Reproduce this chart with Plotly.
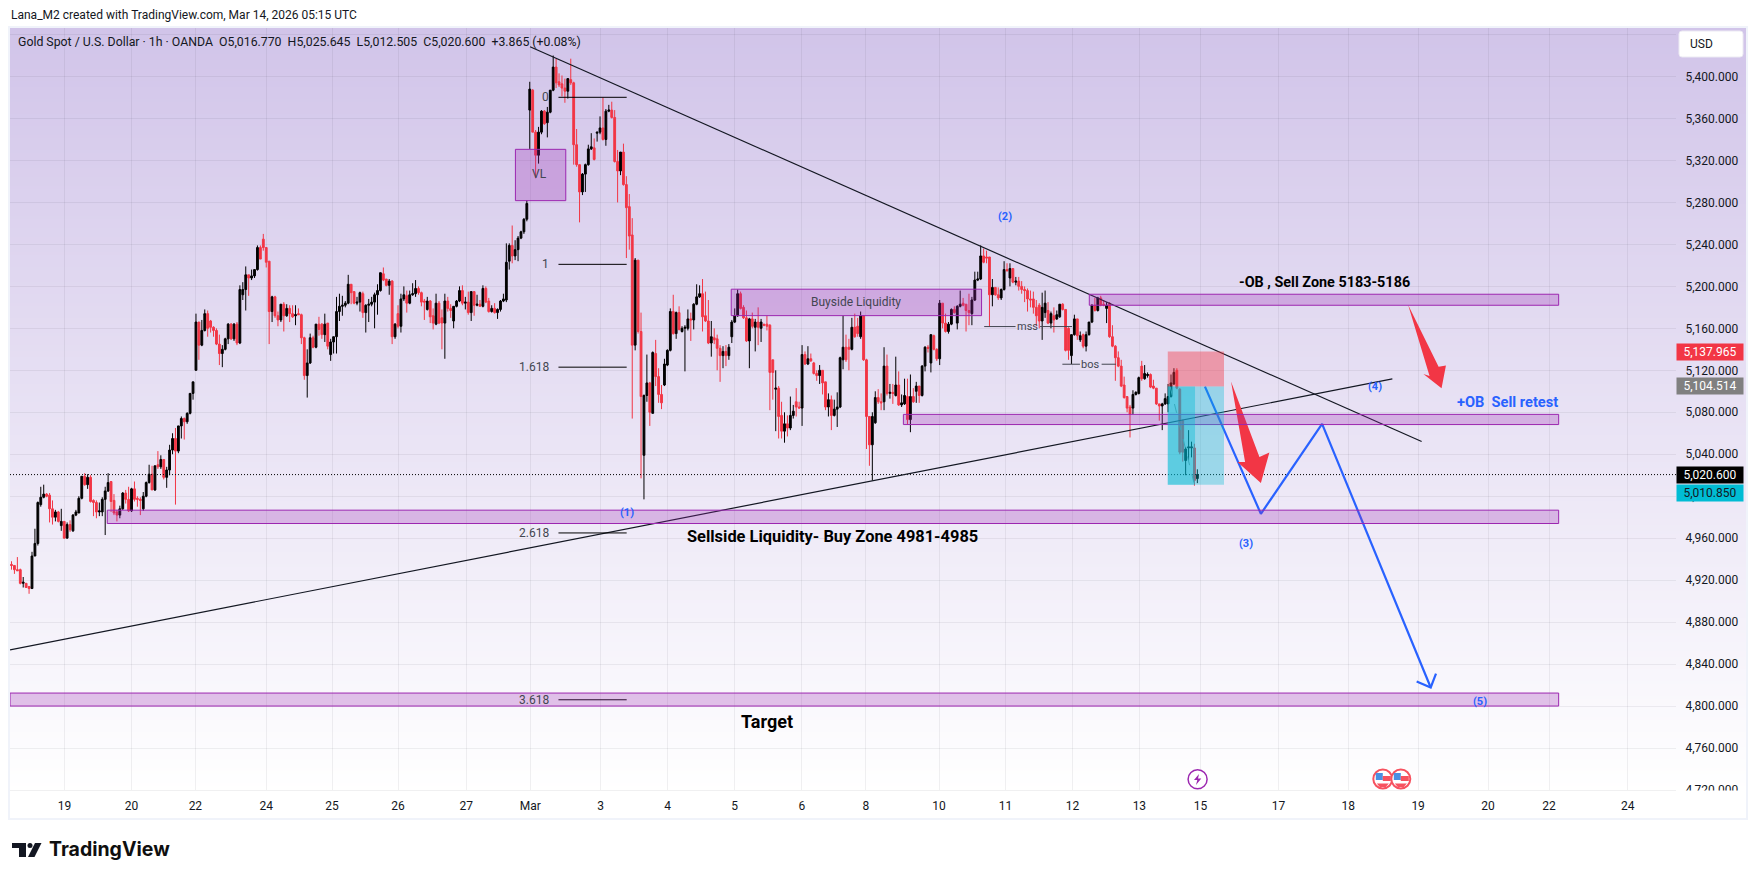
import plotly.graph_objects as go

# ---------- candle data (USD, hourly bars) ----------
opens = [
4935,4934,4930,4930,4917,4917,4914,4912,4943,4955, 4992,4999,5002,5001,4988,4980,4985,4972,4976,4960,
4973,4967,4982,4984,4998,5019,5011,5018,4996,4994, 4985,4985,4997,5005,5014,4996,4985,4982,4988,5003,
4997,4986,5007,4998,4997,4988,5000,5013,5021,5006, 5030,5028,5035,5018,5025,5044,5055,5043,5067,5074,
5071,5079,5098,5120,5166,5144,5158,5174,5167,5161, 5158,5145,5136,5140,5150,5164,5150,5164,5146,5192,
5197,5211,5208,5210,5216,5237,5245,5237,5224,5176, 5190,5172,5168,5183,5172,5179,5174,5172,5174,5173,
5151,5115,5127,5151,5142,5164,5164,5154,5165,5135, 5147,5152,5176,5181,5182,5184,5202,5195,5184,5185,
5193,5175,5182,5183,5185,5192,5196,5212,5207,5201, 5205,5152,5174,5162,5188,5191,5184,5192,5193,5198,
5194,5186,5178,5186,5172,5164,5184,5170,5165,5186, 5179,5167,5181,5186,5196,5184,5185,5175,5195,5182,
5183,5181,5198,5186,5176,5179,5175,5178,5186,5187, 5224,5239,5229,5235,5246,5252,5264,5368,5387,5347,
5325,5347,5367,5356,5366,5387,5409,5395,5393,5389, 5386,5397,5394,5335,5316,5290,5307,5316,5331,5332,
5346,5347,5351,5340,5367,5368,5361,5319,5310,5328, 5297,5276,5249,5144,5225,5157,5039,5096,5108,5079,
5136,5114,5097,5106,5125,5139,5176,5155,5175,5157, 5160,5160,5169,5168,5183,5190,5193,5172,5167,5146,
5151,5150,5141,5134,5138,5134,5152,5166,5172,5193, 5180,5170,5148,5169,5161,5166,5160,5164,5164,5163,
5130,5102,5103,5077,5062,5069,5065,5077,5090,5085, 5084,5135,5126,5131,5127,5117,5115,5120,5109,5085,
5092,5077,5083,5085,5130,5142,5142,5140,5161,5162, 5152,5172,5130,5076,5049,5070,5094,5090,5090,5124,
5098,5099,5096,5106,5087,5088,5095,5073,5095,5100, 5105,5096,5124,5142,5127,5153,5140,5131,5184,5165,
5157,5164,5178,5165,5181,5184,5183,5177,5174,5187, 5206,5207,5229,5228,5228,5192,5199,5192,5189,5197,
5216,5208,5217,5204,5205,5200,5197,5196,5188,5188, 5180,5182,5167,5175,5177,5165,5172,5169,5171,5183,
5178,5160,5134,5154,5169,5149,5154,5143,5154,5166, 5182,5177,5189,5183,5179,5184,5152,5143,5132,5124,
5106,5095,5085,5084,5097,5098,5124,5112,5115,5116, 5105,5103,5088,5086,5088,5088,5095,5107,5120,5102,
5072,5034,5046,5046,5046,5016.77]
highs = [
4938,4934,4942,4931,4923,4917,4914,4947,4969,4995, 5009,5011,5003,5003,4996,4987,4986,4988,4976,4975,
4977,4983,4987,5000,5019,5022,5021,5020,4997,4996, 4994,4999,5009,5022,5014,5002,4987,4991,5004,5006,
5009,5008,5014,5000,4999,5004,5014,5030,5029,5029, 5043,5039,5035,5028,5049,5060,5065,5067,5076,5075,
5080,5098,5109,5174,5166,5168,5178,5177,5168,5162, 5160,5154,5144,5151,5165,5165,5165,5166,5201,5204,
5219,5211,5216,5216,5239,5239,5250,5237,5224,5191, 5191,5176,5183,5185,5183,5182,5182,5182,5179,5174,
5152,5140,5155,5153,5164,5171,5165,5174,5165,5150, 5152,5190,5193,5191,5186,5211,5202,5195,5190,5195,
5195,5183,5188,5190,5194,5202,5213,5218,5207,5207, 5206,5165,5182,5193,5200,5196,5196,5203,5206,5200,
5195,5188,5190,5187,5179,5193,5186,5178,5193,5190, 5183,5181,5187,5200,5201,5190,5195,5195,5195,5192,
5187,5201,5200,5189,5182,5184,5179,5187,5193,5241, 5241,5258,5244,5248,5253,5265,5282,5395,5388,5349,
5352,5368,5368,5371,5387,5420,5417,5403,5401,5398, 5398,5417,5395,5350,5316,5308,5317,5335,5346,5341,
5347,5362,5380,5369,5373,5376,5368,5330,5328,5336, 5305,5288,5265,5227,5225,5175,5097,5135,5109,5138,
5149,5122,5106,5131,5140,5179,5192,5176,5181,5162, 5163,5178,5175,5184,5202,5201,5207,5195,5187,5167,
5160,5154,5144,5143,5144,5145,5168,5179,5197,5195, 5182,5177,5170,5175,5169,5180,5169,5164,5172,5164,
5130,5120,5105,5090,5080,5077,5095,5087,5103,5090, 5144,5138,5143,5136,5128,5120,5125,5120,5109,5098,
5096,5092,5099,5133,5172,5154,5150,5170,5174,5170, 5176,5172,5131,5076,5080,5100,5102,5098,5142,5135,
5107,5107,5133,5119,5097,5112,5112,5116,5103,5109, 5105,5125,5143,5144,5154,5154,5141,5187,5184,5174,
5166,5179,5181,5182,5196,5189,5183,5193,5190,5214, 5214,5239,5236,5234,5228,5207,5199,5199,5198,5224,
5222,5222,5217,5209,5209,5205,5200,5198,5196,5195, 5187,5184,5194,5196,5185,5176,5180,5177,5183,5184,
5178,5161,5154,5173,5169,5157,5155,5157,5166,5183, 5189,5190,5191,5187,5185,5185,5163,5144,5138,5130,
5114,5095,5087,5101,5100,5114,5129,5125,5118,5117, 5111,5103,5088,5089,5098,5107,5116,5122,5122,5103,
5073,5047,5063,5052,5050,5025.645]
lows = [
4930,4926,4929,4916,4913,4913,4907,4912,4943,4953, 4990,4998,4999,4975,4973,4976,4975,4967,4960,4960,
4966,4966,4981,4984,4997,5010,5007,4994,4981,4979, 4981,4981,4963,5004,4985,4982,4976,4979,4987,4993,
4985,4985,4995,4990,4982,4986,4999,5012,5006,5005, 5026,5026,5016,5008,5020,5040,4992,5041,5055,5054,
5069,5078,5092,5120,5130,5143,5157,5152,5156,5152, 5144,5125,5123,5139,5145,5149,5148,5144,5145,5187,
5177,5191,5206,5208,5215,5226,5234,5218,5145,5166, 5170,5162,5166,5157,5171,5166,5170,5163,5173,5145,
5111,5094,5126,5141,5141,5153,5150,5147,5140,5129, 5136,5136,5167,5172,5180,5183,5183,5183,5182,5176,
5170,5156,5166,5181,5160,5173,5195,5205,5200,5192, 5145,5150,5160,5156,5186,5175,5183,5191,5190,5192,
5181,5168,5177,5165,5159,5163,5164,5140,5131,5176, 5170,5160,5180,5185,5182,5178,5173,5167,5172,5181,
5181,5180,5184,5175,5175,5174,5169,5176,5185,5185, 5216,5222,5225,5224,5245,5250,5262,5331,5347,5303,
5317,5345,5354,5342,5365,5386,5389,5390,5381,5375, 5379,5392,5316,5314,5261,5287,5290,5315,5330,5320,
5338,5345,5339,5334,5366,5360,5318,5280,5306,5296, 5227,5235,5074,5139,5155,5017,4997,5090,5067,5079,
5105,5089,5083,5105,5124,5138,5154,5150,5158,5156, 5119,5158,5148,5159,5182,5189,5157,5166,5145,5133,
5145,5120,5109,5122,5124,5130,5146,5165,5171,5178, 5169,5147,5122,5160,5138,5144,5147,5162,5158,5082,
5092,5062,5055,5055,5051,5057,5063,5074,5076,5084, 5067,5125,5125,5128,5116,5110,5107,5097,5082,5076,
5063,5076,5066,5084,5121,5128,5120,5139,5151,5152, 5150,5129,5045,5029,5015,5069,5088,5082,5082,5096,
5093,5088,5095,5086,5085,5087,5068,5061,5089,5089, 5089,5095,5119,5137,5118,5139,5129,5125,5160,5156,
5155,5163,5174,5159,5180,5181,5157,5163,5163,5186, 5205,5206,5222,5222,5162,5181,5191,5187,5187,5196,
5214,5200,5203,5201,5196,5193,5185,5176,5180,5174, 5162,5160,5149,5170,5164,5160,5156,5168,5170,5177,
5138,5130,5126,5153,5149,5147,5141,5138,5153,5165, 5176,5176,5181,5181,5165,5151,5142,5110,5123,5104,
5093,5080,5056,5078,5096,5097,5110,5111,5113,5103, 5102,5087,5072,5063,5087,5080,5094,5106,5102,5040,
5033,5020,5034,5037,5010,5012.505]
closes = [
4934,4930,4929,4917,4918,4913,4912,4943,4955,4994, 4999,5002,5000,4988,4980,4985,4976,4976,4960,4973,
4968,4982,4985,4998,5019,5011,5018,4995,4994,4985, 4986,4997,5005,5013,4995,4984,4982,4988,5003,4997,
4986,5007,4997,4997,4996,5000,5013,5021,5006,5029, 5028,5035,5018,5025,5044,5055,5043,5067,5074,5071,
5079,5098,5109,5166,5144,5158,5174,5160,5161,5158, 5145,5136,5140,5150,5164,5150,5164,5146,5197,5197,
5211,5208,5210,5216,5237,5226,5237,5223,5176,5190, 5172,5168,5183,5172,5179,5174,5171,5173,5173,5151,
5115,5127,5151,5142,5164,5159,5154,5164,5143,5147, 5152,5176,5181,5182,5184,5202,5194,5184,5185,5194,
5175,5182,5183,5185,5192,5196,5213,5206,5201,5205, 5152,5164,5162,5188,5192,5184,5192,5193,5198,5194,
5185,5185,5186,5171,5165,5184,5165,5165,5186,5179, 5177,5181,5186,5196,5184,5185,5175,5195,5182,5183,
5181,5198,5185,5176,5179,5175,5178,5186,5188,5223, 5239,5229,5235,5246,5252,5264,5279,5388,5347,5325,
5347,5367,5355,5366,5387,5409,5394,5392,5389,5386, 5398,5394,5335,5316,5290,5307,5316,5331,5333,5321,
5347,5351,5340,5367,5368,5361,5319,5310,5328,5297, 5275,5248,5144,5225,5157,5095,5096,5108,5080,5137,
5114,5097,5089,5126,5139,5176,5155,5175,5159,5160, 5161,5169,5168,5183,5190,5193,5171,5167,5146,5152,
5149,5141,5134,5138,5134,5142,5166,5172,5193,5179, 5170,5148,5169,5162,5166,5161,5166,5163,5162,5118,
5118,5103,5076,5062,5069,5065,5077,5081,5085,5084, 5135,5126,5131,5129,5117,5115,5120,5108,5085,5092,
5077,5083,5085,5132,5142,5130,5140,5161,5152,5155, 5172,5130,5076,5049,5076,5094,5090,5089,5124,5098,
5099,5098,5106,5087,5089,5096,5073,5095,5090,5105, 5096,5124,5142,5141,5154,5140,5131,5184,5165,5157,
5164,5178,5175,5181,5183,5182,5177,5175,5187,5206, 5207,5229,5223,5227,5192,5199,5192,5189,5197,5216,
5215,5217,5204,5205,5200,5197,5196,5188,5187,5180, 5172,5167,5180,5184,5165,5174,5168,5173,5183,5178,
5139,5139,5154,5169,5153,5153,5143,5154,5166,5182, 5177,5189,5182,5182,5182,5152,5143,5132,5124,5105,
5094,5084,5078,5097,5099,5113,5112,5117,5116,5104, 5103,5088,5086,5088,5093,5095,5108,5118,5103,5042,
5042,5045,5047,5047,5015,5020.6]
assert len(opens) == len(highs) == len(lows) == len(closes) == 406
bars = list(range(len(opens)))

# ---------- axes ----------
date_ticks = [18.1,41,62.8,87,109.5,132,155.3,177.2,201.2,224.1,247,269.9,291.8,316.8,339.5,362.4,385.2,406.1,432.7,456.5,480.4,504.3,525.1,552]
date_labels = ["19","20","22","24","25","26","27","Mar","3","4","5","6","8","10","11","12","13","15","17","18","19","20","22","24"]
price_ticks = [4720,4760,4800,4840,4880,4920,4960,5000,5040,5080,5120,5160,5200,5240,5280,5320,5360,5400,5440]
price_labels = [f"{v:,.3f}" for v in price_ticks[:-1]] + [""]
x_range = [-0.512, 568.47]
y_range = [4720, 5447.2]

# ---------- drawings, in (bar, price) ----------
falling_line = ([177.1, 481.6], [5428.4, 5052.1])
rising_line = ([-0.5, 471.6], [4853.6, 5111.8])
fib_levels = {"0": 5380.2, "1": 5221, "1.618": 5123, "2.618": 4965, "3.618": 4806}
fib_span = [186.8, 210.1]
fib_label_bar = 184.3
zones = [  # x0, x1, low, high
    (172.1, 189.3, 5281.7, 5330.6),
    (245.8, 331.3, 5172.1, 5197.3),
    (368.1, 528.4, 5182.0, 5192.5),
    (304.6, 528.4, 5068.3, 5078.0),
    (32.7, 528.4, 4974.0, 4986.7),
    (-0.5, 528.4, 4800.0, 4812.4),
]
short_entry, short_stop, short_target, last_price = 5104.514, 5137.965, 5010.85, 5020.6
short_bars = (394.9, 404.2, 414.1)
path_bars = [407.6, 426.7, 447.6, 484.7]
path_prices = [5104.5, 4983.2, 5068.9, 4817.7]
head_bars = [479.9, 484.7, 486.5]
head_prices = [4823.5, 4817.7, 4830.9]
arrow1_bars = [416.5, 421.3, 418.7, 426.7, 429.6, 426.2, 416.5]
arrow1_prices = [5109.3, 5032.5, 5032.5, 5012.5, 5041.7, 5037.3, 5109.3]
arrow2_bars = [477, 484.3, 482.2, 488.4, 489.9, 487.4, 477]
arrow2_prices = [5182.3, 5114.6, 5116.6, 5103, 5124.5, 5123.3, 5182.3]
mss_price, bos_price = 5161.7, 5125.8
mss_segments = [(332.2, 342.9), (351.3, 362.2)]
bos_segments = [(358.9, 364.9), (372.3, 377.2)]
trade_dash = ([395.7, 404], [5104.5, 5011])

W, H = 1757, 880
L, R, T, B = 10, 1676, 27, 790
FONT = "Roboto"
INK = "#131722"
BLUE = "#2962ff"
RED = "#f23645"
PURPLE = "#9c27b0"
GREY = "#434651"


def fx(px):
    return (px - L) / (R - L)


def fy(py):
    return 1 - (py - T) / (B - T)


def ppath(points):
    return "M " + " L ".join(f"{fx(a):.5f},{fy(b):.5f}" for a, b in points) + " Z"


fig = go.Figure()

# background gradient, below the grid
shapes = []
top_c, bot_c = (209, 196, 233), (255, 255, 255)
step = 3
for y in range(T, B, step):
    t = (y - T) / (B - T)
    c = tuple(round(a + (b - a) * t) for a, b in zip(top_c, bot_c))
    shapes.append(dict(type="rect", xref="paper", yref="paper", layer="below", x0=fx(9), x1=fx(1746),
                       y0=fy(min(y + step, B)), y1=fy(y), fillcolor=f"rgb{c}", line_width=0))

# frame around the chart
shapes.append(dict(type="rect", xref="paper", yref="paper", layer="above", x0=fx(9), x1=fx(1747), y0=fy(819), y1=fy(27),
                   line=dict(color="#f0f3fa", width=2), fillcolor="rgba(0,0,0,0)"))

fig.add_trace(go.Candlestick(
    x=bars, open=opens, high=highs, low=lows, close=closes, name="XAUUSD",
    increasing=dict(line=dict(color="#000000", width=1), fillcolor="#000000"),
    decreasing=dict(line=dict(color=RED, width=1), fillcolor=RED),
    whiskerwidth=0, hoverinfo="skip", showlegend=False))


def line(xs, ys, color=INK, width=1, dash=None, name=None):
    fig.add_trace(go.Scatter(x=xs, y=ys, mode="lines", line=dict(color=color, width=width, dash=dash),
                             hoverinfo="skip", showlegend=False, name=name))


line([x_range[0], x_range[1]], [last_price, last_price], "#000000", 1, "1px,2px", "last")
line(*falling_line, INK, 1.2, None, "falling")
line(*rising_line, INK, 1.2, None, "rising")
for v in fib_levels.values():
    line(fib_span, [v, v], "#000000", 1)
for a, b in mss_segments:
    line([a, b], [mss_price, mss_price], GREY, 1)
for a, b in bos_segments:
    line([a, b], [bos_price, bos_price], GREY, 1)

# zones
for x0, x1, lo, hi in zones:
    shapes.append(dict(type="rect", xref="x", yref="y", layer="above", x0=x0, x1=x1, y0=lo, y1=hi,
                       fillcolor="rgba(156,39,176,0.27)", line=dict(color=PURPLE, width=1)))
# short position
shapes.append(dict(type="rect", xref="x", yref="y", layer="above", x0=short_bars[0], x1=short_bars[2], y0=short_entry, y1=short_stop,
                   fillcolor="rgba(242,54,69,0.42)", line_width=0))
shapes.append(dict(type="rect", xref="x", yref="y", layer="above", x0=short_bars[0], x1=short_bars[2], y0=short_target, y1=short_entry,
                   fillcolor="rgba(0,188,212,0.34)", line_width=0))
shapes.append(dict(type="rect", xref="x", yref="y", layer="above", x0=short_bars[0], x1=short_bars[1], y0=short_target, y1=short_entry,
                   fillcolor="rgba(0,188,212,0.40)", line_width=0))

line(*trade_dash, "#8a8f9c", 1, "dash", "trade")
line(path_bars, path_prices, BLUE, 2.2, None, "path")
line(head_bars, head_prices, BLUE, 2.2, None, "head")
for xs, ys in [(arrow1_bars, arrow1_prices), (arrow2_bars, arrow2_prices)]:
    fig.add_trace(go.Scatter(x=xs, y=ys, mode="lines", fill="toself", fillcolor=RED, line=dict(color=RED, width=0),
                             hoverinfo="skip", showlegend=False))

# chart chrome: lower right strip cut, USD button, events, logo
shapes.append(dict(type="rect", xref="paper", yref="paper", layer="above", x0=fx(1677), x1=fx(1746), y0=fy(818), y1=fy(790.5),
                   fillcolor="white", line_width=0))
bx0, bx1, by0, by1 = fx(1679), fx(1743), fy(57), fy(31)
rx, ry = 3 / (R - L), 3 / (B - T)
shapes.append(dict(type="path", xref="paper", yref="paper", layer="above",
                   path=(f"M {bx0+rx},{by1} L {bx1-rx},{by1} Q {bx1},{by1} {bx1},{by1-ry} L {bx1},{by0+ry} Q {bx1},{by0} {bx1-rx},{by0} "
                         f"L {bx0+rx},{by0} Q {bx0},{by0} {bx0},{by0+ry} L {bx0},{by1-ry} Q {bx0},{by1} {bx0+rx},{by1} Z"),
                   fillcolor="white", line=dict(color="#eceaf3", width=1)))


def circle(cx, cy, r, line_color, w=2):
    shapes.append(dict(type="circle", xref="paper", yref="paper", layer="above", x0=fx(cx - r), x1=fx(cx + r), y0=fy(cy + r), y1=fy(cy - r),
                       fillcolor="white", line=dict(color=line_color, width=w)))


def poly(points, color):
    shapes.append(dict(type="path", xref="paper", yref="paper", layer="above", path=ppath(points), fillcolor=color, line_width=0))


circle(1197.6, 779.3, 9.5, PURPLE, 1.5)
poly([(1199, 774), (1194, 780), (1197.3, 780), (1196, 785), (1201.3, 778.5), (1198, 778.5)], PURPLE)
for cx in (1382.8, 1400.8):
    circle(cx, 779, 9.5, "#f7525f", 2)
    poly([(cx - 7, 773), (cx, 773), (cx, 780), (cx - 7, 780)], "#4a90e2")
    poly([(cx, 776), (cx + 8, 776), (cx + 8, 781), (cx, 781)], "#f7525f")
    poly([(cx - 6, 783.5), (cx + 6, 783.5), (cx + 3, 787), (cx - 3, 787)], "#f7525f")

poly([(12, 843), (26, 843), (26, 857), (19, 857), (19, 848), (12, 848)], INK)
poly([(35, 843), (41.5, 843), (34.5, 857), (28, 857)], INK)
shapes.append(dict(type="circle", xref="paper", yref="paper", layer="above", x0=fx(27.5), x1=fx(32.5), y0=fy(848), y1=fy(843),
                   fillcolor=INK, line_width=0))

fig.update_layout(shapes=shapes)


def note(text, x, y, size=12, color=INK, bold=False, anchor="center"):
    fig.add_annotation(text=text, x=x, y=y, xref="x", yref="y", showarrow=False, xanchor=anchor, yanchor="middle",
                       font=dict(family=FONT, size=size, color=color, weight=700 if bold else 400))


def page_text(text, px, py, size=12, color=INK, bold=False, anchor="left", family=FONT):
    fig.add_annotation(text=text, x=fx(px), y=fy(py), xref="paper", yref="paper", showarrow=False, xanchor=anchor, yanchor="middle",
                       font=dict(family=family, size=size, color=color, weight=700 if bold else 400))


def tag(text, py, bg, color="white"):
    fig.add_annotation(text=text, x=1.0, y=fy(py), xref="paper", yref="paper", showarrow=False, xanchor="left", yanchor="middle",
                       width=66, height=16, bgcolor=bg, borderpad=0, align="center",
                       font=dict(family=FONT, size=12, color=color))


for k, v in fib_levels.items():
    note(k, fib_label_bar, v, 12, GREY, anchor="right")
note("VL", 180.4, 5307, 12, GREY)
note("Buyside Liquidity", 288.4, 5184.9, 12, GREY)
note("mss", 347, mss_price, 11, GREY)
note("bos", 368.3, bos_price, 11, GREY)
note("(1)", 210.1, 4984.8, 11, BLUE, True)
note("(2)", 339.3, 5267, 11, BLUE, True)
note("(3)", 421.6, 4955, 11, BLUE, True)
note("(4)", 465.6, 5105, 11, BLUE, True)
note("(5)", 501.4, 4804.8, 11, BLUE, True)
note("-OB , Sell Zone 5183-5186", 448.3, 5203.9, 14.4, "#000000", True)
note("+OB  Sell retest", 510.9, 5089.6, 14.6, BLUE, True)
note("Sellside Liquidity- Buy Zone 4981-4985", 280.5, 4961.6, 16.4, "#000000", True)
note("Target", 257.9, 4785.4, 18, "#000000", True)

page_text("Lana_M2 created with TradingView.com, Mar 14, 2026 05:15 UTC", 8.5, 15, 12)
page_text("Gold Spot / U.S. Dollar · 1h · OANDA  O5,016.770  H5,025.645  L5,012.505  C5,020.600  +3.865 (+0.08%)", 16, 41.7, 12.3)
page_text("USD", 1688, 44.5, 12)
page_text("TradingView", 47, 849, 19.5, "#0f0f0f", True, family="Inter")

tag("5,137.965", 351.7, RED)
tag("5,104.514", 386.5, "#808080")
tag("5,020.600", 475.3, "#000000")
tag("5,010.850", 492.7, "#00bcd4", INK)

GRID = "rgba(42,46,57,0.07)"
fig.update_layout(
    width=W, height=H, paper_bgcolor="white", plot_bgcolor="rgba(0,0,0,0)",
    margin=dict(l=L, r=W - R, t=T, b=H - B, pad=0), showlegend=False,
    font=dict(family=FONT, size=12, color=INK), hovermode=False, boxgap=0.12,
    xaxis=dict(range=x_range, tickmode="array", tickvals=date_ticks, ticktext=date_labels, showgrid=True, gridcolor=GRID, gridwidth=1,
               zeroline=False, showline=True, linecolor=GRID, linewidth=1, ticks="outside", ticklen=5, tickcolor="rgba(0,0,0,0)",
               tickfont=dict(family=FONT, size=12, color=INK), rangeslider=dict(visible=False), tickangle=0),
    yaxis=dict(range=y_range, side="right", tickmode="array", tickvals=price_ticks, ticktext=price_labels, showgrid=True, gridcolor=GRID,
               gridwidth=1, zeroline=False, showline=False, ticks="outside", ticklen=6, tickcolor="rgba(0,0,0,0)",
               tickfont=dict(family=FONT, size=12, color=INK)),
)

fig.write_html("out.html", config=dict(displayModeBar=False, staticPlot=True),
               post_script="document.body.style.margin='0';document.body.style.overflow='hidden';")
